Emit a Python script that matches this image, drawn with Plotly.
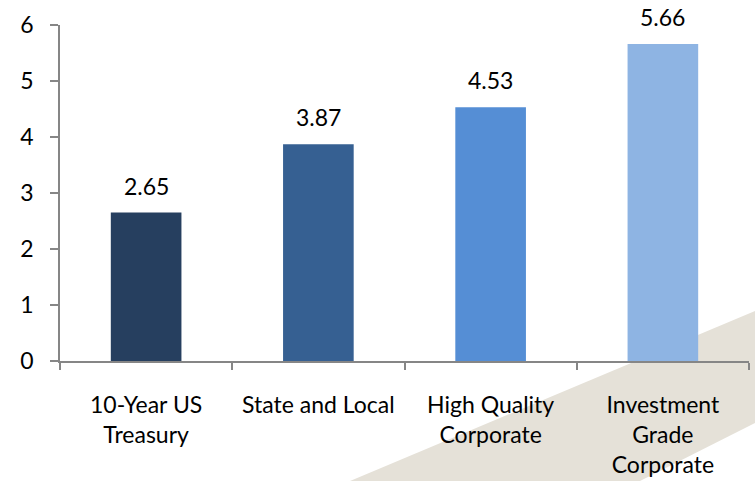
import plotly.graph_objects as go

categories = ["10-Year US<br>Treasury", "State and Local", "High Quality<br>Corporate", "Investment<br>Grade<br>Corporate"]
values = [2.65, 3.87, 4.53, 5.66]
bar_colors = ["#263F5F", "#366092", "#558ED5", "#8EB4E3"]
y_ticks = [0, 1, 2, 3, 4, 5, 6]

FONT = "Lato"
FS = 23
fig = go.Figure()
fig.add_trace(go.Bar(
    x=categories, y=values,
    marker=dict(color=bar_colors, line=dict(width=0)),
    width=0.41,
    cliponaxis=False,
))

for c, v in zip(categories, values):
    fig.add_annotation(x=c, y=v, text=f"{v:.2f}", showarrow=False,
                       xref="x", yref="y", yanchor="bottom", yshift=11,
                       font=dict(family=FONT, size=FS, color="#000000"))

# beige decorative band (bottom right)
fig.add_shape(type="path", xref="paper", yref="paper", layer="below",
              path="M 0.421 -0.357 L 1.0087 0.149 L 1.0087 -0.1845 L 0.8418 -0.357 Z",
              fillcolor="#E5E1D8", line=dict(width=0))

fig.update_layout(
    width=755, height=481,
    margin=dict(l=60, r=6, t=25, b=120),
    paper_bgcolor="white", plot_bgcolor="white",
    showlegend=False,
    font=dict(family=FONT, size=FS, color="#000000"),
)
fig.update_xaxes(
    type="category", tickson="boundaries", automargin=False,
    showline=True, linecolor="#868686", linewidth=1.5,
    ticks="outside", ticklen=7, tickcolor="#868686", tickwidth=1.5,
    showgrid=False, ticklabelstandoff=23,
    tickfont=dict(family=FONT, size=FS, color="#000000"),
)
fig.update_yaxes(
    range=[0, 6], tickvals=y_ticks, automargin=False,
    showline=True, linecolor="#868686", linewidth=1.5,
    ticks="outside", ticklen=8, tickcolor="#868686", tickwidth=1.5,
    showgrid=False, zeroline=False, ticklabelstandoff=12,
    tickfont=dict(family=FONT, size=FS, color="#000000"),
)
fig.write_html("out.html", config={"displayModeBar": False},
               post_script="document.body.style.margin='0';document.body.style.overflow='hidden';")
